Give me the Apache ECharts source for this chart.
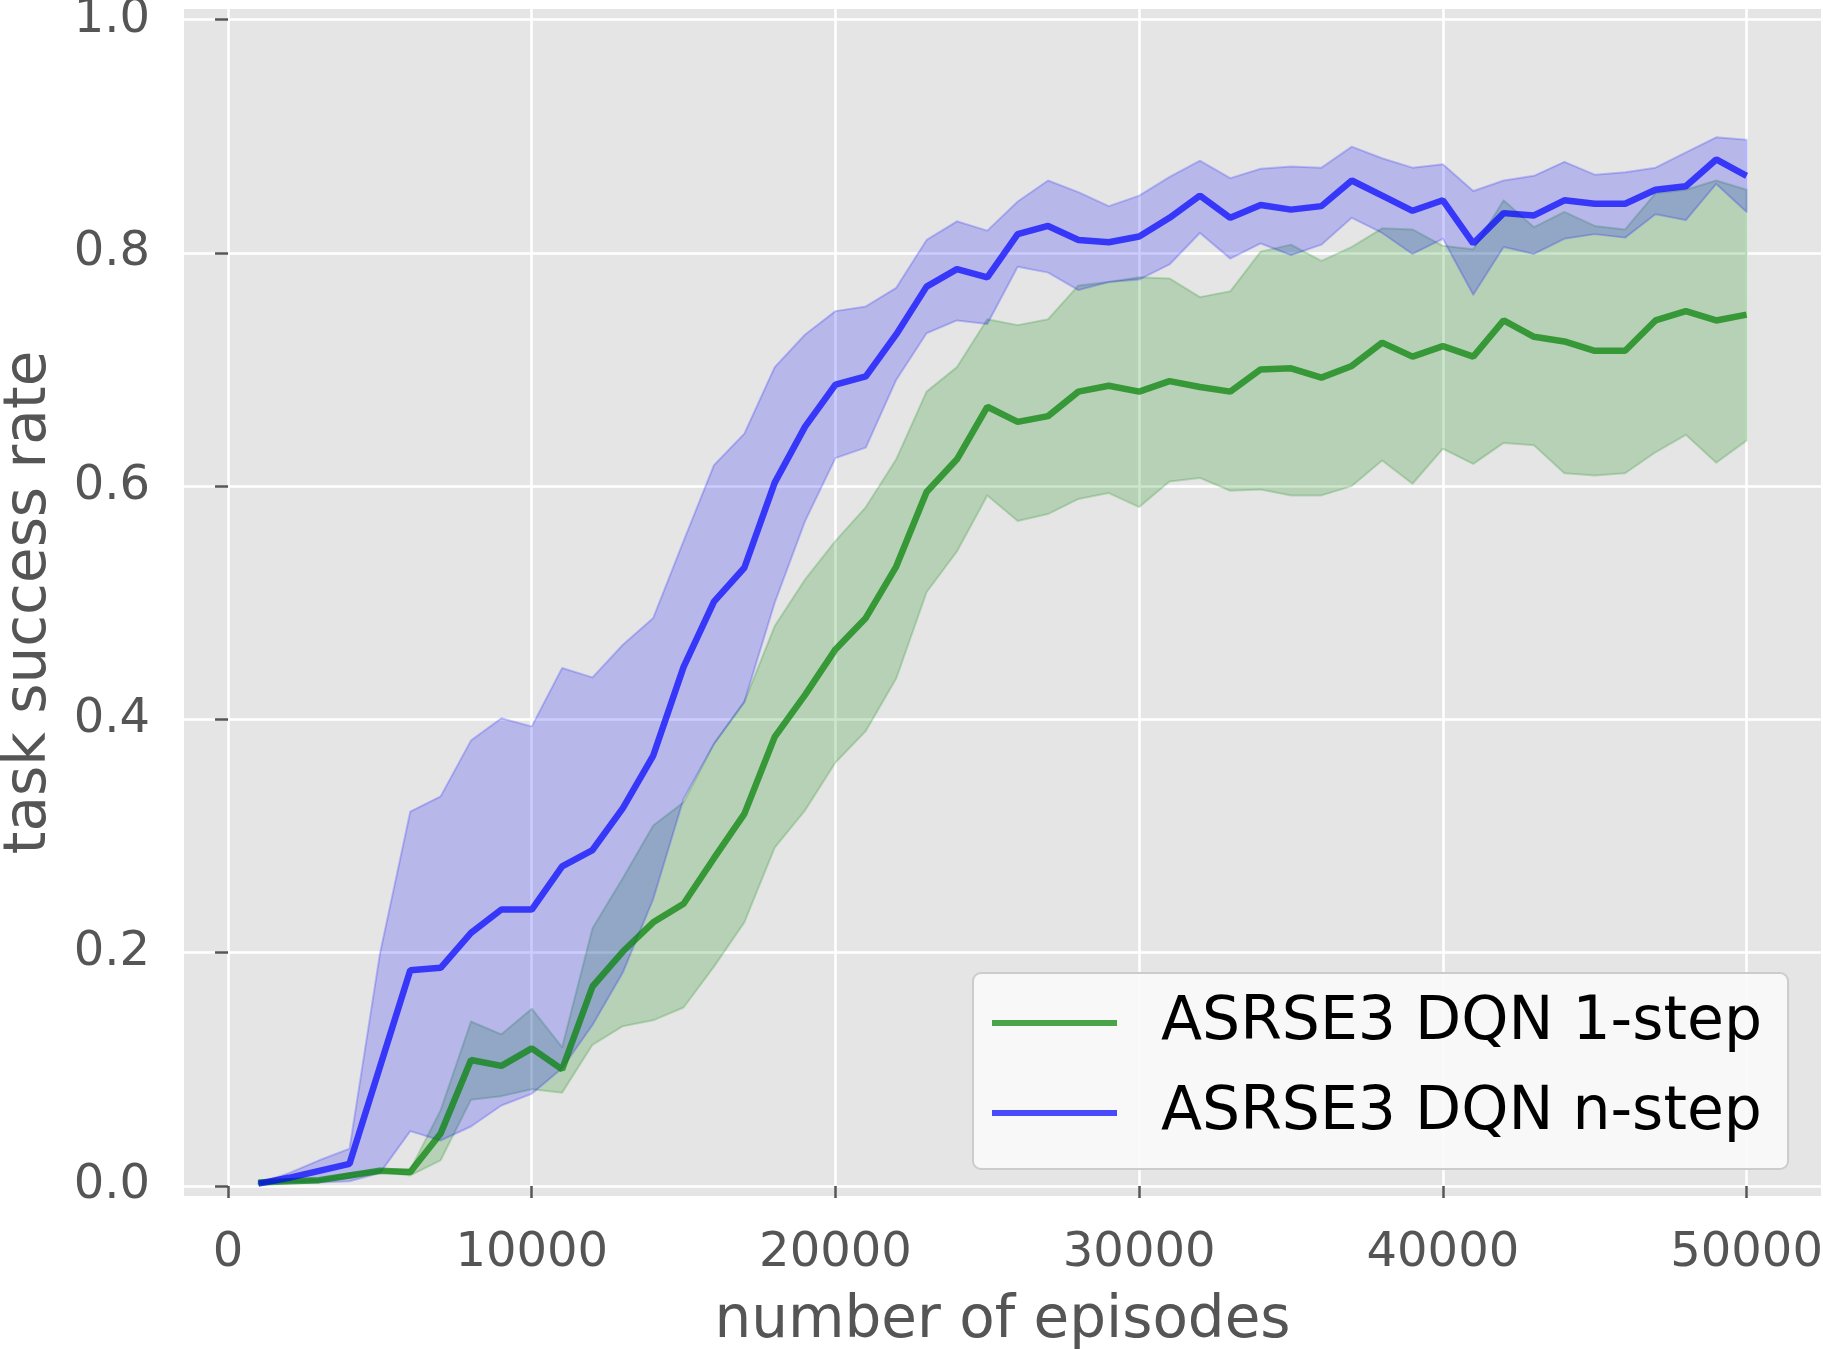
<!DOCTYPE html>
<html>
<head>
<meta charset="utf-8">
<script src="https://cdn.jsdelivr.net/npm/echarts@6/dist/echarts.min.js"></script>
<style>
html,body{margin:0;padding:0;background:#fff;}
#chart{width:1823px;height:1349px;}
</style>
</head>
<body>
<div id="chart"></div>
<script>
const episodes = [1000,2000,3000,4000,5000,6000,7000,8000,9000,10000,11000,12000,13000,14000,15000,16000,17000,18000,19000,20000,21000,22000,23000,24000,25000,26000,27000,28000,29000,30000,31000,32000,33000,34000,35000,36000,37000,38000,39000,40000,41000,42000,43000,44000,45000,46000,47000,48000,49000,50000];

const oneStepMean = [0.003,0.004,0.005,0.009,0.013,0.012,0.045,0.108,0.103,0.118,0.100,0.171,0.201,0.226,0.242,0.281,0.319,0.385,0.421,0.460,0.487,0.531,0.595,0.623,0.668,0.655,0.660,0.681,0.686,0.681,0.690,0.685,0.681,0.700,0.701,0.693,0.703,0.723,0.711,0.720,0.711,0.742,0.728,0.724,0.716,0.716,0.742,0.750,0.742,0.747];
const oneStepUpper = [0.004,0.005,0.006,0.011,0.014,0.014,0.065,0.141,0.130,0.152,0.119,0.221,0.264,0.309,0.329,0.379,0.415,0.480,0.520,0.553,0.582,0.623,0.681,0.702,0.743,0.738,0.743,0.772,0.775,0.779,0.778,0.762,0.767,0.801,0.807,0.793,0.805,0.821,0.820,0.806,0.803,0.845,0.822,0.835,0.823,0.820,0.851,0.854,0.862,0.854];
const oneStepLower = [0.002,0.003,0.004,0.007,0.012,0.009,0.022,0.074,0.077,0.083,0.080,0.121,0.137,0.142,0.153,0.188,0.226,0.290,0.322,0.363,0.390,0.435,0.509,0.544,0.592,0.570,0.576,0.589,0.594,0.582,0.604,0.607,0.596,0.597,0.592,0.592,0.600,0.622,0.602,0.632,0.619,0.637,0.635,0.611,0.609,0.611,0.629,0.644,0.620,0.639];

const nStepMean = [0.002,0.007,0.013,0.019,0.102,0.185,0.187,0.217,0.237,0.237,0.274,0.288,0.324,0.369,0.445,0.501,0.530,0.603,0.651,0.687,0.694,0.730,0.771,0.786,0.779,0.816,0.823,0.811,0.809,0.814,0.830,0.849,0.830,0.841,0.837,0.840,0.862,0.849,0.836,0.845,0.808,0.834,0.832,0.845,0.842,0.842,0.854,0.857,0.880,0.866];
const nStepUpper = [0.002,0.011,0.022,0.032,0.199,0.321,0.334,0.382,0.401,0.394,0.444,0.436,0.464,0.487,0.553,0.618,0.645,0.702,0.730,0.750,0.754,0.770,0.811,0.827,0.819,0.844,0.862,0.852,0.840,0.849,0.865,0.879,0.864,0.872,0.874,0.873,0.891,0.881,0.873,0.876,0.853,0.862,0.866,0.878,0.867,0.869,0.873,0.886,0.899,0.897];
const nStepLower = [0.002,0.003,0.003,0.004,0.011,0.047,0.039,0.051,0.069,0.079,0.101,0.138,0.183,0.246,0.332,0.379,0.415,0.500,0.570,0.624,0.633,0.691,0.731,0.742,0.739,0.788,0.783,0.768,0.775,0.777,0.790,0.817,0.795,0.808,0.798,0.807,0.830,0.817,0.799,0.812,0.764,0.805,0.799,0.812,0.816,0.813,0.833,0.828,0.859,0.835];

const xTicks = [0,10000,20000,30000,40000,50000];
const yTicks = [0,0.2,0.4,0.6,0.8,1.0];
const seriesNames = ['ASRSE3 DQN 1-step','ASRSE3 DQN n-step'];

const FONT = 'DejaVu Sans';
const pairs = (ys) => episodes.map((x,i)=>[x, ys[i]]);

const GREEN_LINE = 'rgba(0,128,0,0.7)';
const GREEN_FILL = 'rgba(0,128,0,0.2)';
const BLUE_LINE = 'rgba(0,0,255,0.7)';
const BLUE_FILL = 'rgba(0,0,255,0.2)';

// fill_between-like band: one polygon built through the axes' coordinate system
function band(name, lo, hi, color){
  return {
    name, type:'custom', silent:true, clip:true,
    data: episodes.map((x,i)=>[x, lo[i], hi[i]]),
    encode:{x:0, y:[1,2]},
    renderItem: function(params, api){
      if (params.dataIndex !== 0) return null;
      const pts = [];
      for (let i = 0; i < episodes.length; i++) pts.push(api.coord([episodes[i], hi[i]]));
      for (let i = episodes.length - 1; i >= 0; i--) pts.push(api.coord([episodes[i], lo[i]]));
      return {
        type:'polygon',
        shape:{points:pts},
        style:{fill:color, stroke:color, lineWidth:2, lineJoin:'round'}
      };
    }
  };
}

const chart = echarts.init(document.getElementById('chart'), null, {renderer:'canvas'});
chart.setOption({
  backgroundColor:'#ffffff',
  animation:false,
  grid:{left:184, top:9, width:1637, height:1187, show:true, backgroundColor:'#E5E5E5', borderWidth:0, containLabel:false, outerBoundsMode:'none'},
  legend:{
    data: seriesNames.map((n,i)=>({name:n, icon:'rect', itemStyle:{color: i===0?GREEN_LINE:BLUE_LINE}})),
    orient:'vertical', left:973, top:973,
    itemWidth:125, itemHeight:6, itemGap:20,
    padding:[15,26,21,19],
    backgroundColor:'rgba(250,250,250,0.9)', borderColor:'#cccccc', borderWidth:2, borderRadius:8,
    textStyle:{fontFamily:FONT, fontSize:60, color:'#000', lineHeight:70, padding:[0,0,0,39]},
    selectedMode:false
  },
  xAxis:{
    type:'value', min:-1450, max:52450, offset:5,
    name:'number of episodes', nameLocation:'middle', nameGap:92,
    nameTextStyle:{fontFamily:FONT, fontSize:58, color:'#555555'},
    axisLine:{show:false},
    axisTick:{show:true, length:12, lineStyle:{color:'#555555', width:2.5}, customValues: xTicks},
    axisLabel:{fontFamily:FONT, fontSize:48, color:'#555555', margin:29, customValues: xTicks, formatter:(v)=>String(v)},
    splitLine:{show:true, lineStyle:{color:'#ffffff', width:2.5}}
  },
  yAxis:{
    type:'value', min:-0.0086, max:1.009, offset:4,
    name:'task success rate', nameLocation:'middle', nameGap:121,
    nameTextStyle:{fontFamily:FONT, fontSize:58, color:'#555555'},
    axisLine:{show:false},
    axisTick:{show:true, length:13, lineStyle:{color:'#555555', width:2.5}, customValues: yTicks},
    axisLabel:{fontFamily:FONT, fontSize:48, color:'#555555', margin:30, customValues: yTicks, formatter:(v)=>v.toFixed(1)},
    splitLine:{show:true, lineStyle:{color:'#ffffff', width:2.5}}
  },
  series:[
    band('1-step band', oneStepLower, oneStepUpper, GREEN_FILL),
    band('n-step band', nStepLower, nStepUpper, BLUE_FILL),
    {name:seriesNames[0], type:'line', data:pairs(oneStepMean), symbol:'none', lineStyle:{color:GREEN_LINE, width:6.5}, itemStyle:{color:GREEN_LINE}},
    {name:seriesNames[1], type:'line', data:pairs(nStepMean), symbol:'none', lineStyle:{color:BLUE_LINE, width:6.5}, itemStyle:{color:BLUE_LINE}}
  ]
});
</script>
</body>
</html>
